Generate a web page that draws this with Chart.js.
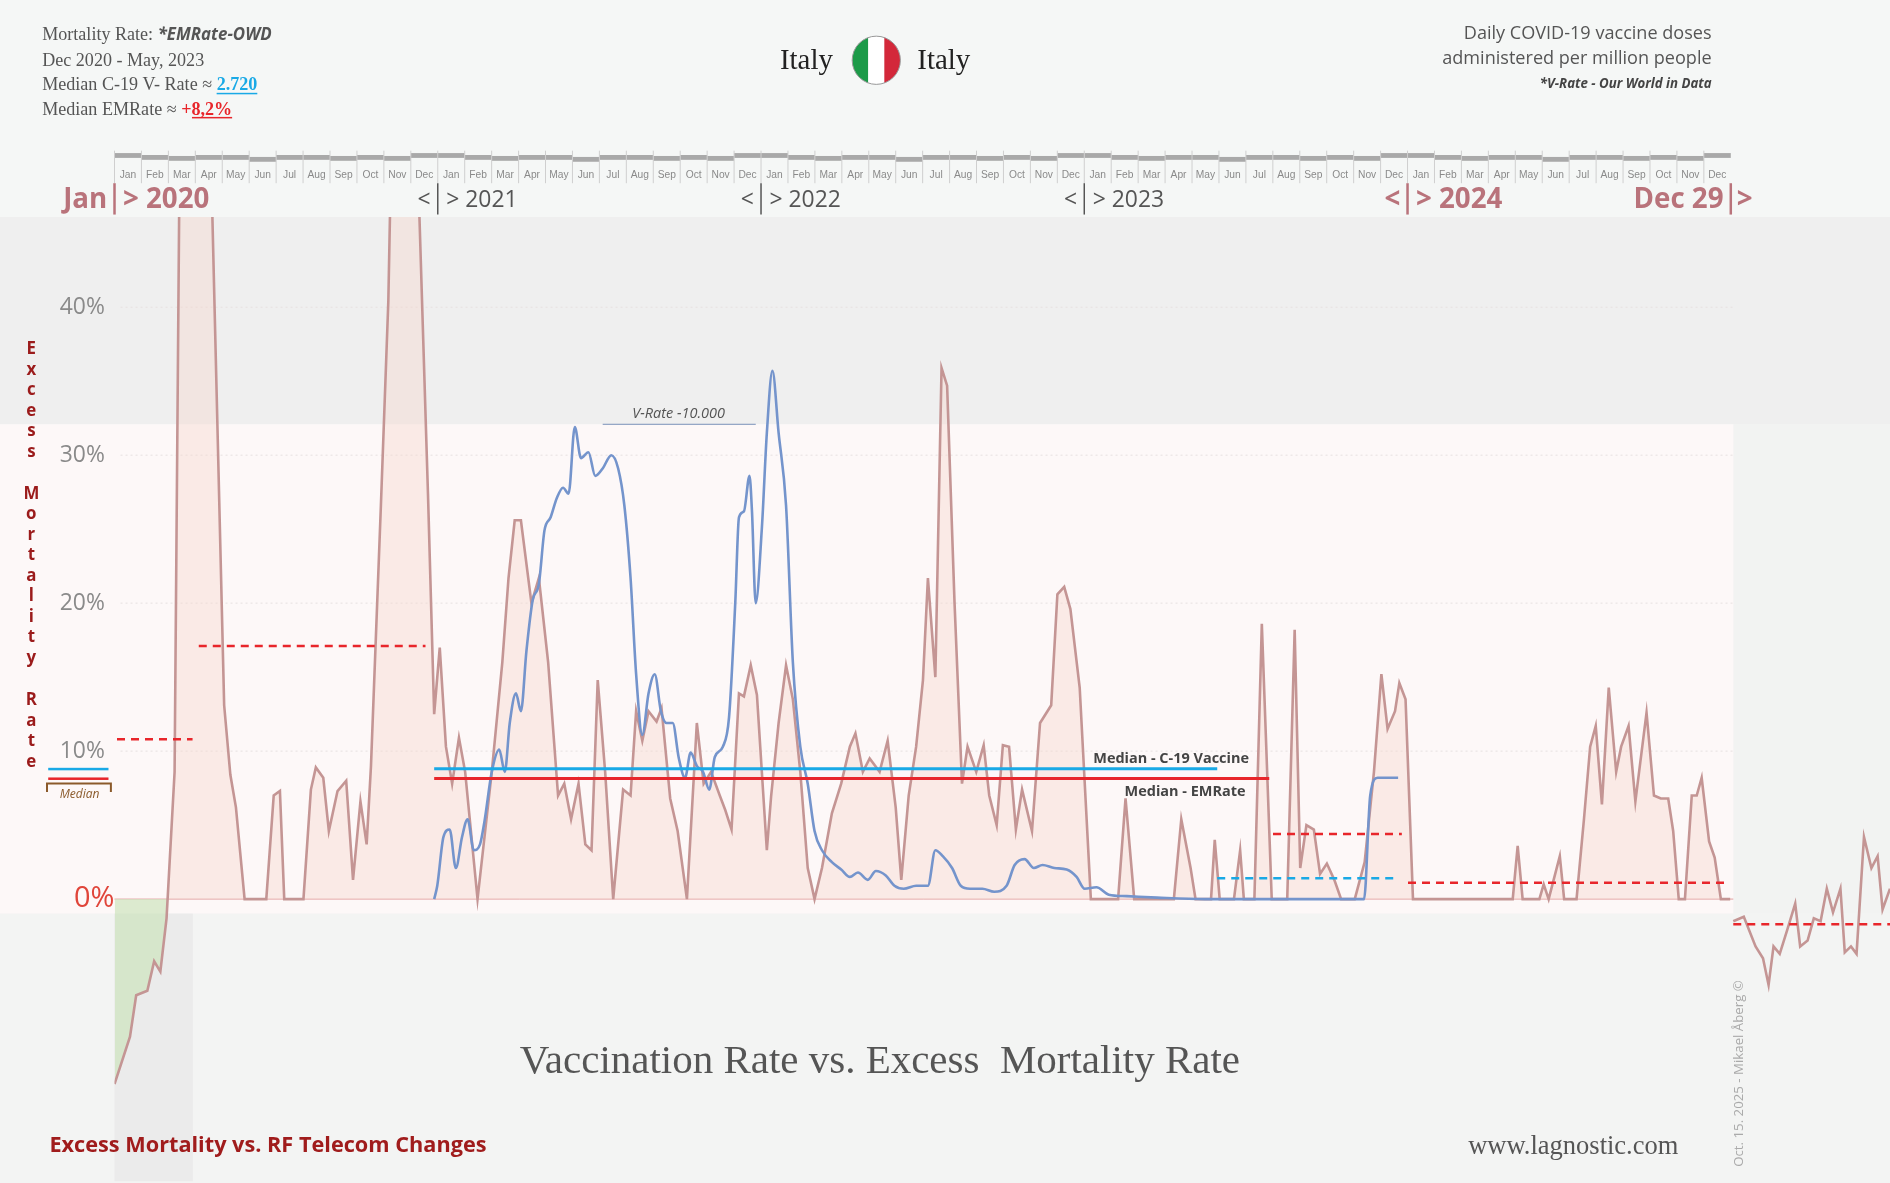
<!DOCTYPE html>
<html><head><meta charset="utf-8">
<script src="https://cdn.jsdelivr.net/npm/chart.js@4/dist/chart.umd.min.js"></script>
<style>html,body{margin:0;padding:0;background:#f5f7f6;}canvas{display:block;}</style>
</head><body>
<canvas id="c" width="1890" height="1183"></canvas>
<script>
// x values are weeks since 1 Jan 2020; y values in %
const emWeeks = [0,2.5,3.5,5.3,6.4,7.4,8.4,9.7,10.7,15,17.7,18.7,19.6,21,24.5,25.7,26.7,27.4,30.5,31.7,32.5,33.7,34.6,36,37.4,38.5,39.7,40.7,41.4,43,44.2,45.1,48.2,50.6,51.6,52.5,53.5,54.5,55.6,56.6,58.6,60.9,62.6,63.6,64.6,65.6,67.3,68.5,70,71.6,72.6,73.7,74.9,76,77,78,79.2,80.5,82.1,83.3,84.2,85.2,86.2,87.5,88.3,89.7,90.9,92.4,94,95.1,96.3,97.7,98.6,99.6,100.8,101.6,102.7,103.7,105.3,106,107.2,108.4,109.5,110.7,111.9,113,114.2,115.8,117.3,118.7,119.6,120.8,121.9,123.5,124.8,126.1,127,128.2,129.4,130.5,131.3,132.5,133.5,134.4,135.6,136.8,137.7,139.1,140.3,141.2,142.4,143.4,144.4,145.5,146.5,148.1,149.4,151.2,152.2,153.3,154.3,155.8,157.6,162,163.2,164.6,171,172.2,173.7,174.5,177,177.6,178.4,180.7,181.7,182.3,184,185.2,186.8,189.3,190.5,191.4,192.4,193.6,194.6,195.7,196.9,198,200.2,201.8,203.3,204.5,205.5,206.7,207.4,208.4,209.6,225.7,226.5,227.3,230,230.7,231.5,233.3,234,236,237.2,238.2,239.1,240.1,241.2,242.4,243.2,244.4,245.5,247.3,248.5,249.6,250.8,251.6,252.5,253.5,254.6,255.4,256.2,257.4,258.3,259.3,260.8];
const emValues = [-12.5,-9.3,-6.5,-6.2,-4.2,-4.9,-1.3,8.6,60,60,13.1,8.4,6.2,0,0,7,7.3,0,0,7.4,8.9,8.2,4.6,7.3,8,1.3,6.6,3.7,9,26.6,40.4,60,60,27.4,12.5,17,10.3,7.8,10.9,8.6,0,8.6,16,21.7,25.6,25.6,20,21.7,16,7,7.8,5.4,7.8,3.7,3.3,14.8,8.6,0,7.4,7,12.7,10.7,12.7,12,12.9,6.8,4.6,0,11.9,7.8,8.6,7,6,4.7,13.9,13.7,15.8,13.8,3.3,7,11.9,15.8,13.5,8.6,2.1,0,2.1,5.8,7.8,10.3,11.2,8.6,9.5,8.6,10.7,6.2,1.3,7,10.3,14.8,21.7,15,35.9,34.7,20,7.8,10.3,8.6,10.4,7,5,10.4,10.3,4.7,7.4,4.6,11.9,13.1,20.6,21.1,19.6,14.3,0,0,6.8,0,0,5.4,2.1,0,0,4,0,0,3.3,0,0,18.6,0,0,18.2,2.1,5,4.7,1.7,2.4,1.3,0,0,2.5,8.6,15.2,11.5,12.7,14.6,13.5,0,0,3.6,0,0,1,0,2.9,0,0,5.4,10.3,11.7,6.4,14.3,8.6,10.3,11.7,6.6,12.6,7,6.8,6.8,4.6,0,0,7,7,8.2,3.9,2.8,0,0];
const emTailWeeks = [261.3,263,264.9,266.1,267,267.8,268.8,270,271.3,272.1,273.3,274.3,275.4,276.4,277.4,278.6,279.3,280.3,281.2,282.4,283.6,284.6,285.4,286.6];
const emTailValues = [-1.5,-1.2,-3.2,-4,-5.8,-3.2,-3.7,-2.1,-0.3,-3.2,-2.8,-1.3,-1.5,0.7,-0.9,0.7,-3.6,-3.2,-3.7,4.2,2.1,2.9,-0.7,0.7];
const vWeeks = [51.6,52.1,53.1,54.1,55.1,56.1,57,58,59,59.7,60.9,62.1,63,63.8,64.8,65.6,66.5,67.5,68.5,69.4,70.4,71.4,72.4,73.3,74.3,75.3,76.5,77.6,78.8,80.2,81.3,82.3,83.3,84.2,85.2,86.2,87.2,88.2,89.1,90.1,91.1,92.1,93,94,95,96,96.9,98.2,99.2,100.2,100.8,101.6,102.5,102.9,103.5,104.5,105.3,106.2,107.2,108.4,109.5,110.7,111.9,113,114.2,115.8,117.3,118.7,120,121.6,122.9,124.5,125.9,127.4,129.4,131.3,132.5,133.7,135.2,136.6,138.1,140.1,142,144,145.3,146.9,148.4,149.8,151.7,153.7,155.3,156.6,158.5,160.5,163.4,168.3,176,201.7,202.7,203.9,207.2];
const vValues = [0,0.9,4.2,4.7,2.1,4.2,5.4,3.3,3.7,5.2,8.6,10.1,8.6,11.9,13.9,12.7,16.8,20.2,21.3,24.9,25.8,27.1,27.8,27.4,31.9,29.8,30.2,28.6,29.1,30,29.1,26.6,21.7,15.2,11.1,13.9,15.2,12.7,11.9,11.9,9.5,8.2,9.9,9,8.6,7.4,9.6,10.3,12.3,20,25.8,26.2,28.6,26.2,20,25.1,31.5,35.7,31.5,26.6,16,10.3,7.8,4.6,3.3,2.5,2,1.5,1.8,1.3,1.9,1.6,0.9,0.7,0.9,0.9,3.3,2.9,2.1,0.9,0.7,0.7,0.5,0.9,2.3,2.7,2.1,2.3,2.1,2,1.5,0.7,0.8,0.3,0.2,0.1,0,0,7,8.2,8.2];
const medianVaccine = {from:51.6, to:178, value:8.8};
const medianEM = {from:51.6, to:186.4, value:8.15};
const periodMedians = [
  {from:0.4,to:12.6,value:10.8,color:'#e8262b'},
  {from:13.6,to:50.2,value:17.1,color:'#e8262b'},
  {from:187,to:207.8,value:4.4,color:'#e8262b'},
  {from:178,to:206.6,value:1.4,color:'#19a9e6'},
  {from:208.8,to:260.7,value:1.1,color:'#e8262b'},
  {from:261.3,to:286.6,value:-1.7,color:'#e8262b'}
];
const yTicks = [10,20,30,40];
const months = ['Jan','Feb','Mar','Apr','May','Jun','Jul','Aug','Sep','Oct','Nov','Dec'];
const years = ['2020','2021','2022','2023','2024'];

const S = 1890/1568;
const P = v => v*S;
const pts = (xs,ys)=>xs.map((x,i)=>({x:x,y:ys[i]}));
const seg = m => [{x:m.from,y:m.value},{x:m.to,y:m.value}];
const WPY = 52.18;

const deco = {
  id:'deco',
  beforeDraw(ch){
    const c=ch.ctx, xs=ch.scales.x, ys=ch.scales.y;
    c.save();
    c.fillStyle='#f5f7f6'; c.fillRect(0,0,1890,1183);
    c.fillStyle='#efefef'; c.fillRect(0,P(180),1890,P(172));
    c.fillStyle='#f2f3f2'; c.fillRect(0,P(352),1890,P(406));
    c.fillStyle='#fdf8f8'; c.fillRect(0,P(352),P(1438),P(406));
    c.fillStyle='#f3f4f3'; c.fillRect(0,P(758),1890,1183-P(758));
    c.fillStyle='#ebebeb'; c.fillRect(P(95),P(758),P(65),P(222));
    c.strokeStyle='#e6e0e0'; c.setLineDash([2,3]); c.lineWidth=1;
    yTicks.forEach(t=>{const y=ys.getPixelForValue(t);c.beginPath();c.moveTo(P(100),y);c.lineTo(P(1438),y);c.stroke();});
    c.setLineDash([]);
    c.strokeStyle='#e3a0a0'; c.beginPath(); const y0=ys.getPixelForValue(0); c.moveTo(P(95),y0); c.lineTo(P(1438),y0); c.stroke();
    c.restore();
  },
  afterDraw(ch){
    const c=ch.ctx, xs=ch.scales.x, ys=ch.scales.y;
    c.save();
    c.textAlign='right'; c.textBaseline='middle';
    c.font=`${P(19)}px "Open Sans"`; c.fillStyle='#8a8a8a';
    yTicks.forEach(t=>c.fillText(t+'%',P(87),ys.getPixelForValue(t)));
    c.font=`${P(24)}px "Open Sans"`; c.fillStyle='#e0453a';
    c.fillText('0%',P(95),ys.getPixelForValue(0));
    c.textAlign='center'; c.fillStyle='#9b1b1b'; c.font=`bold ${P(14)}px "Open Sans"`;
    const title='Excess Mortality Rate'; let yy=P(290);
    for(const ch2 of title){ if(ch2===' '){yy+=P(18);continue;} c.fillText(ch2,P(26),yy); yy+=P(17);}
    for(let m=0;m<60;m++){
      const xa=xs.getPixelForValue(m*WPY/12), xb=xs.getPixelForValue((m+1)*WPY/12);
      const off=[0,2,3,2,2,4,2,2,3,2,3,0][m%12];
      c.fillStyle='#a9a9a9'; c.fillRect(xa,P(127+off*0.8),xb-xa,P(4));
      c.strokeStyle='#cfcfcf'; c.lineWidth=1; c.beginPath(); c.moveTo(xa,P(125)); c.lineTo(xa,P(152)); c.stroke();
      c.fillStyle='#8a8a8a'; c.font=`${P(8.5)}px "Liberation Sans Narrow", "Liberation Sans"`; c.textAlign='center';
      c.fillText(months[m%12],(xa+xb)/2,P(145));
    }
    c.textBaseline='middle';
    years.forEach((yr,i)=>{
      const x=xs.getPixelForValue(i*WPY);
      const big=(i===0||i===4);
      c.font=big?`bold ${P(23)}px "Open Sans"`:`${P(19)}px "Open Sans"`;
      c.fillStyle=big?'#b9737b':'#555';
      c.textAlign='right';
      c.fillText(i===0?'Jan':'<',x-P(6),P(166));
      c.textAlign='left';
      c.fillText('> '+yr,x+P(7),P(166));
      c.strokeStyle=big?'#b9737b':'#555'; c.lineWidth=big?2.5:1.5;
      c.beginPath(); c.moveTo(x,P(152)); c.lineTo(x,P(178)); c.stroke();
    });
    const xe=xs.getPixelForValue(5*WPY);
    c.font=`bold ${P(23)}px "Open Sans"`; c.fillStyle='#b9737b'; c.textAlign='right';
    c.fillText('Dec 29',xe-P(6),P(166));
    c.textAlign='left'; c.fillText('>',xe+P(5),P(166));
    c.strokeStyle='#b9737b'; c.lineWidth=2.5; c.beginPath(); c.moveTo(xe,P(152)); c.lineTo(xe,P(178)); c.stroke();
    c.textBaseline='alphabetic'; c.textAlign='left';
    c.fillStyle='#555'; c.font=`${P(15)}px "Liberation Serif"`;
    c.fillText('Mortality Rate: ',P(35),P(33));
    let w=c.measureText('Mortality Rate: ').width;
    c.font=`bold italic ${P(14)}px "Open Sans"`; c.fillText('*EMRate-OWD',P(35)+w,P(33));
    c.font=`${P(15)}px "Liberation Serif"`;
    c.fillText('Dec 2020 - May, 2023',P(35),P(55));
    const l3='Median C-19 V- Rate ≈ '; c.fillText(l3,P(35),P(75));
    w=c.measureText(l3).width; c.fillStyle='#19a9e6'; c.font=`bold ${P(15)}px "Liberation Serif"`;
    c.fillText('2.720',P(35)+w,P(75)); let w2=c.measureText('2.720').width;
    c.fillRect(P(35)+w,P(77),w2,1.5);
    c.fillStyle='#555'; c.font=`${P(15)}px "Liberation Serif"`;
    const l4='Median EMRate ≈ '; c.fillText(l4,P(35),P(95)); w=c.measureText(l4).width;
    c.fillStyle='#e8262b'; c.font=`bold ${P(15)}px "Liberation Serif"`; c.fillText('+8,2%',P(35)+w,P(95));
    w2=c.measureText('+8,2%').width; c.fillRect(P(35)+w+P(9),P(97),w2-P(9),1.5);
    c.fillStyle='#222'; c.font=`${P(24)}px "Liberation Serif"`; c.textAlign='right'; c.fillText('Italy',P(691),P(57));
    c.textAlign='left'; c.fillText('Italy',P(761),P(57));
    const fx=P(727), fy=P(50), fr=P(20);
    c.save(); c.beginPath(); c.arc(fx,fy,fr,0,Math.PI*2); c.clip();
    c.fillStyle='#1c9a48'; c.fillRect(fx-fr,fy-fr,fr*2/3,fr*2);
    c.fillStyle='#fff'; c.fillRect(fx-fr/3,fy-fr,fr*2/3,fr*2);
    c.fillStyle='#d3283a'; c.fillRect(fx+fr/3,fy-fr,fr*2/3,fr*2);
    c.restore();
    c.strokeStyle='#999'; c.lineWidth=1; c.beginPath(); c.arc(fx,fy,fr,0,Math.PI*2); c.stroke();
    c.textAlign='right'; c.fillStyle='#555'; c.font=`${P(15)}px "Open Sans"`;
    c.fillText('Daily COVID-19 vaccine doses',P(1420),P(32));
    c.fillText('administered per million people',P(1420),P(53));
    c.font=`bold italic ${P(11)}px "Open Sans"`; c.fillStyle='#444';
    c.fillText('*V-Rate - Our World in Data',P(1420),P(73));
    c.textAlign='center'; c.font=`italic ${P(12)}px "Open Sans"`; c.fillStyle='#555';
    c.fillText('V-Rate -10.000',P(563),P(347));
    c.strokeStyle='#7a90b8'; c.lineWidth=1; c.beginPath(); c.moveTo(P(500),P(352)); c.lineTo(P(627),P(352)); c.stroke();
    c.textAlign='left'; c.font=`bold ${P(12)}px "Open Sans"`; c.fillStyle='#444';
    c.fillText('Median - C-19 Vaccine',P(907),P(633));
    c.fillText('Median - EMRate',P(933),P(660));
    c.fillStyle='#19a9e6'; c.fillRect(P(40),P(637),P(50),2.5);
    c.fillStyle='#e8262b'; c.fillRect(P(40),P(645),P(50),2.5);
    c.strokeStyle='#8b5a2b'; c.lineWidth=2; c.beginPath(); c.moveTo(P(39),P(657)); c.lineTo(P(39),P(650)); c.lineTo(P(92),P(650)); c.lineTo(P(92),P(657)); c.stroke();
    c.fillStyle='#8b5a2b'; c.font=`italic ${P(10)}px "Open Sans"`; c.textAlign='center'; c.fillText('Median',P(66),P(662));
    c.fillStyle='#555'; c.font=`${P(34)}px "Liberation Serif"`; c.textAlign='center';
    c.fillText('Vaccination Rate vs. Excess  Mortality Rate',P(730),P(890));
    c.textAlign='left'; c.fillStyle='#a01c1c'; c.font=`bold ${P(18)}px "Open Sans"`;
    c.fillText('Excess Mortality vs. RF Telecom Changes',P(41),P(956));
    c.fillStyle='#555'; c.font=`${P(22)}px "Liberation Serif"`; c.fillText('www.lagnostic.com',P(1218),P(957));
    c.save(); c.translate(P(1446),P(968)); c.rotate(-Math.PI/2); c.fillStyle='#aaa'; c.font=`${P(11)}px "Open Sans"`;
    c.textAlign='left'; c.fillText('Oct. 15. 2025 - Mikael Åberg ©',0,0); c.restore();
    c.restore();
  }
};

new Chart(document.getElementById('c'),{
  type:'line',
  data:{datasets:[
    {data:pts(emWeeks,emValues),borderColor:'#c49594',borderWidth:2.6,pointRadius:0,tension:0,
     fill:{target:'origin',above:'rgba(246,214,206,0.42)',below:'rgba(205,228,190,0.7)'},order:3},
    {data:pts(emTailWeeks,emTailValues),borderColor:'#c49594',borderWidth:2.6,pointRadius:0,tension:0,fill:false,order:3},
    {data:pts(vWeeks,vValues),borderColor:'#7494cc',borderWidth:2.6,pointRadius:0,cubicInterpolationMode:'monotone',fill:false,order:2},
    {data:seg(medianVaccine),borderColor:'#19a9e6',borderWidth:3,pointRadius:0,fill:false,order:1},
    {data:seg(medianEM),borderColor:'#e8262b',borderWidth:3,pointRadius:0,fill:false,order:1},
    ...periodMedians.map(m=>({data:seg(m),borderColor:m.color,borderWidth:2.5,borderDash:[8,6],pointRadius:0,fill:false,order:1}))
  ]},
  options:{
    responsive:false,animation:false,devicePixelRatio:1,
    layout:{padding:{left:P(95),top:P(180),right:0,bottom:1183-P(980)}},
    plugins:{legend:{display:false},tooltip:{enabled:false}},
    scales:{
      x:{type:'linear',min:0,max:286.6,display:false},
      y:{min:-19.07,max:46.1,display:false}
    }
  },
  plugins:[deco]
});
</script>
</body></html>
